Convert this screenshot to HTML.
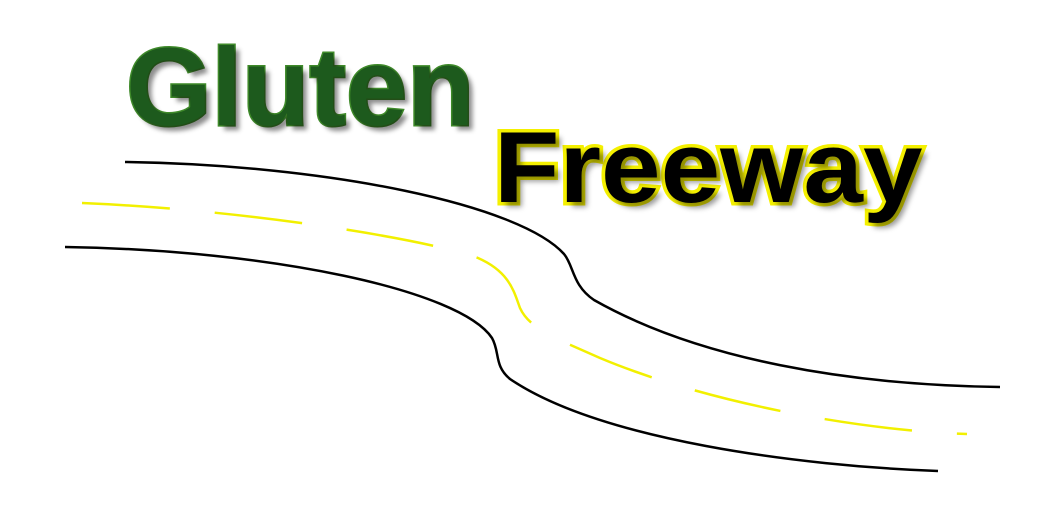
<!DOCTYPE html>
<html>
<head>
<meta charset="utf-8">
<style>
  html,body{margin:0;padding:0;background:#fff;}
  #logo{position:relative;width:1061px;height:531px;overflow:hidden;background:#fff;}
  svg{position:absolute;left:0;top:0;}
  .word{position:absolute;font-family:"Liberation Sans",sans-serif;font-weight:bold;line-height:1;white-space:nowrap;}
  #gluten{left:126px;top:33px;font-size:110px;color:#1d5a1d;
    -webkit-text-stroke:3px #3f8a2a;paint-order:stroke fill;
    text-shadow:5px 5px 5px rgba(0,0,0,0.45);}
  #freeway{left:494px;top:118px;font-size:101px;color:#000;
    -webkit-text-stroke:7px #f4f000;paint-order:stroke fill;
    text-shadow:5px 5px 5px rgba(0,0,0,0.4);transform:scaleX(1.06);transform-origin:left top;}
</style>
</head>
<body>
<div id="logo">
<svg width="1061" height="531" viewBox="0 0 1061 531">
  <path d="M125,162 C330,165 520,205 564,254 C574,266 572,285 594,300 C700,360 850,385 1000,387" fill="none" stroke="#000" stroke-width="2.5"/>
  <path d="M65,247 C270,250 460,290 492,338 C500,352 494,366 510,379 C600,440 800,466 938,471" fill="none" stroke="#000" stroke-width="2.5"/>
  <path d="M82,203 C250,210 430,240 478,258 C510,272 514,292 520,308 C530,330 560,340 600,358 C700,400 850,430 967,434" fill="none" stroke="#f2f000" stroke-width="2.5" stroke-dasharray="88,45"/>
</svg>
<div id="gluten" class="word">Gluten</div>
<div id="freeway" class="word">Freeway</div>
</div>
</body>
</html>
